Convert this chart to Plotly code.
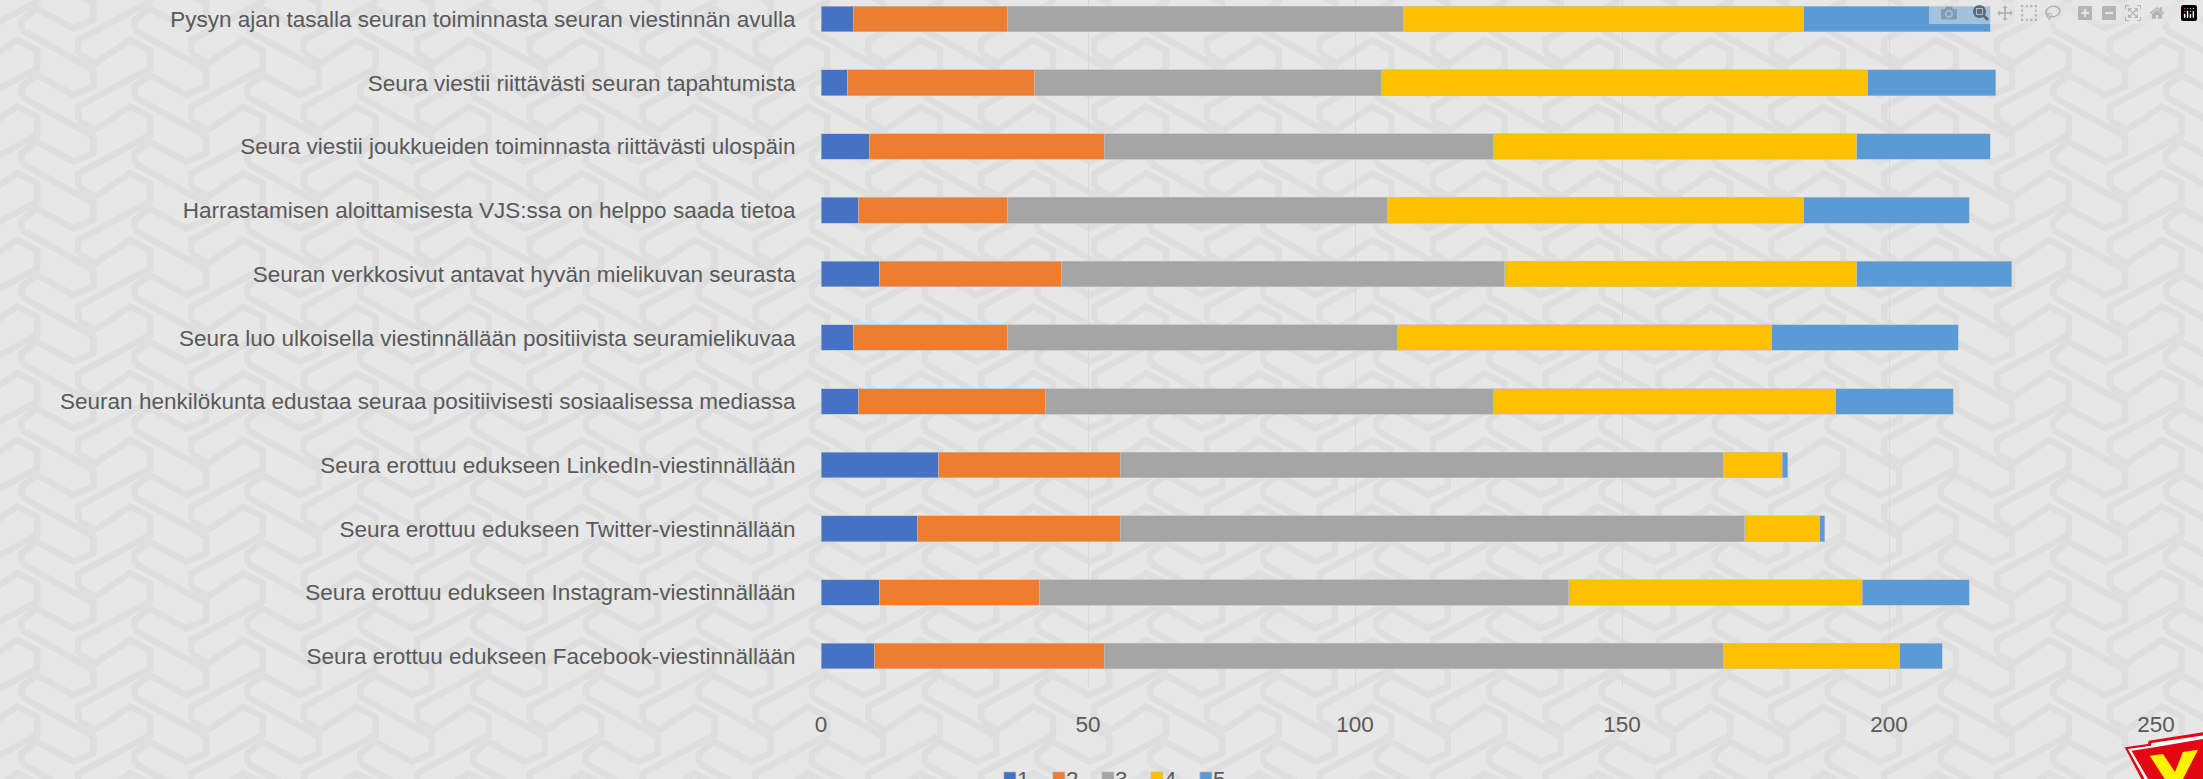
import plotly.graph_objects as go

categories = [
    "Seura erottuu edukseen Facebook-viestinnällään",
    "Seura erottuu edukseen Instagram-viestinnällään",
    "Seura erottuu edukseen Twitter-viestinnällään",
    "Seura erottuu edukseen LinkedIn-viestinnällään",
    "Seuran henkilökunta edustaa seuraa positiivisesti sosiaalisessa mediassa",
    "Seura luo ulkoisella viestinnällään positiivista seuramielikuvaa",
    "Seuran verkkosivut antavat hyvän mielikuvan seurasta",
    "Harrastamisen aloittamisesta VJS:ssa on helppo saada tietoa",
    "Seura viestii joukkueiden toiminnasta riittävästi ulospäin",
    "Seura viestii riittävästi seuran tapahtumista",
    "Pysyn ajan tasalla seuran toiminnasta seuran viestinnän avulla",
]
s1 = [10, 11, 18, 22, 7, 6, 11, 7, 9, 5, 6]
s2 = [43, 30, 38, 34, 35, 29, 34, 28, 44, 35, 29]
s3 = [116, 99, 117, 113, 84, 73, 83, 71, 73, 65, 74]
s4 = [33, 55, 14, 11, 64, 70, 66, 78, 68, 91, 75]
s5 = [8, 20, 1, 1, 22, 35, 29, 31, 25, 24, 35]
series = [("1", s1, "#4472C4"), ("2", s2, "#ED7D31"), ("3", s3, "#A5A5A5"),
          ("4", s4, "#FFC000"), ("5", s5, "#5B9BD5")]
x_ticks = [0, 50, 100, 150, 200, 250]

W, H = 2203, 779
L, R, T, B = 821, 2156, 0, 688
TEXT = "#595959"
BG = "#E7E7E7"
PAT = "#DEDEDE"


def px(x, y):
    return (x - L) / (R - L), (B - y) / (B - T)


def path(points, close=False):
    parts = []
    for i, (x, y) in enumerate(points):
        a, b = px(x, y)
        parts.append(("M" if i == 0 else "L") + f"{a:.5f},{b:.5f}")
    return " ".join(parts) + (" Z" if close else "")


# Background texture: two interlocking zigzag lines, one repeating unit each
PX, PY = 112.87, 66.67
zig_a = [(21.7, 30), (93.3, 70), (93.3, 86.7), (73.3, 95), (36.7, 75), (21.7, 86.7), (21.7, 96.7)]
zig_b = [(78.3, 53.3), (95, 63.3), (130, 40), (150, 50), (150, 68.3), (78.3, 106.7), (78.3, 120)]
shapes = []
for col in range(-1, 21):
    for zig in (zig_a, zig_b):
        pts = []
        for row in range(-2, 13):
            pts += [(x + col * PX, y + row * PY) for x, y in zig]
        shapes.append(dict(type="path", xref="paper", yref="paper", layer="below",
                           path=path(pts), line=dict(color=PAT, width=6.5)))

# Club badge, cut off by the bottom-right corner of the page
badge = [
    ([(2124.7, 747.3), (2148, 744), (2148.7, 740.7), (2203, 732.3), (2203, 779), (2141.3, 779)], "#E30613"),
    ([(2128, 749), (2151, 745.7), (2151.5, 743), (2203, 735.5), (2203, 779), (2144.7, 779)], "#FFFFFF"),
    ([(2131.5, 750.7), (2154.7, 747.3), (2203, 739), (2203, 779), (2148, 779)], "#E30613"),
    ([(2149.7, 755.7), (2163, 754), (2175, 772), (2183, 752), (2198, 749.7), (2183, 779), (2164.7, 779)], "#FFF200"),
]
for pts, colour in badge:
    shapes.append(dict(type="path", xref="paper", yref="paper", layer="above",
                       path=path(pts, True), line=dict(width=0), fillcolor=colour))

fig = go.Figure()
for name, values, colour in series:
    fig.add_trace(go.Bar(
        name=name, y=categories, x=values, orientation="h",
        marker=dict(color=colour, line=dict(color="#BFBFBF", width=0.6)),
        width=0.403,
    ))

fig.update_layout(
    width=W, height=H, barmode="stack",
    paper_bgcolor=BG, plot_bgcolor="rgba(0,0,0,0)",
    margin=dict(l=L, r=W - R, t=T, b=H - B, autoexpand=False),
    font=dict(family="Liberation Sans, Arial, sans-serif", size=22.5, color=TEXT),
    shapes=shapes,
    showlegend=True,
    legend=dict(orientation="h", x=0.1265, xanchor="left", y=-0.1, yanchor="top",
                bgcolor="rgba(0,0,0,0)", entrywidth=4, entrywidthmode="pixels",
                traceorder="normal", font=dict(size=22.5, color=TEXT)),
    bargap=0.6,
    xaxis=dict(range=[0, 250], tickvals=x_ticks, showgrid=True, gridcolor="#D9D9D9", gridwidth=1,
               zeroline=False, showline=False, ticks="outside", ticklen=16,
               tickcolor="rgba(0,0,0,0)"),
    yaxis=dict(type="category", categoryorder="array", categoryarray=categories,
               range=[-0.5, 10.3], showgrid=False, zeroline=False, showline=False,
               ticks="outside", ticklen=20, tickcolor="rgba(0,0,0,0)"),
)

post = """
document.body.style.margin = '0';
document.querySelectorAll('.legendtext').forEach(function (t) { t.setAttribute('x', '27'); });
"""
fig.write_html("out.html", post_script=post)
